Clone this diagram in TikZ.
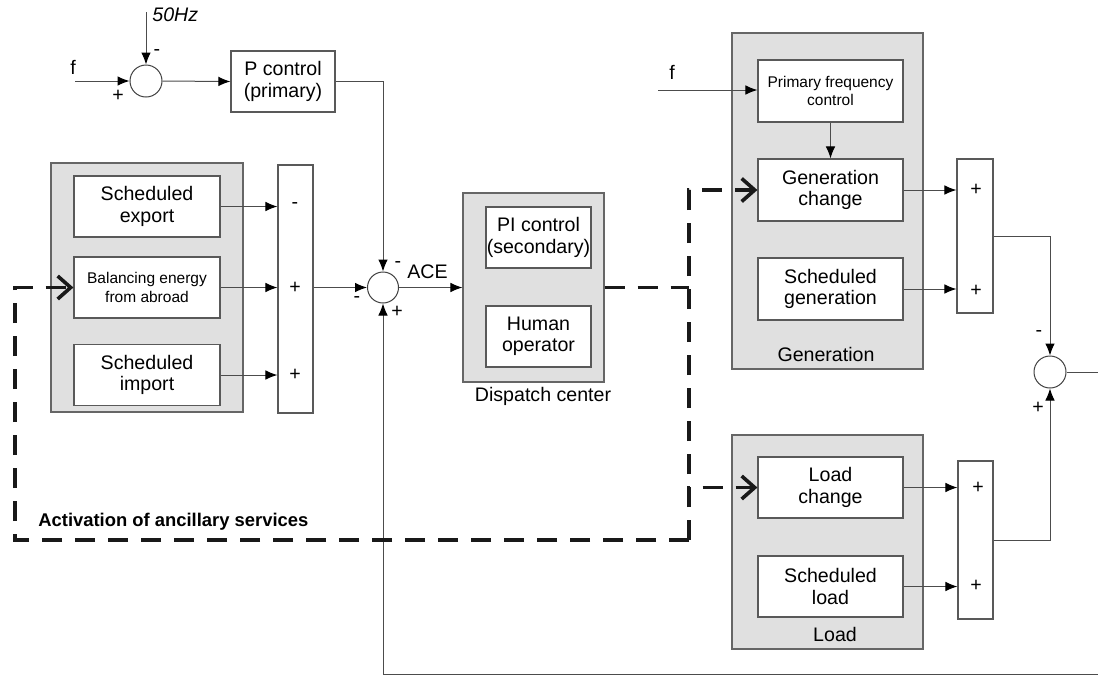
\documentclass[tikz,border=0pt]{standalone}
\usepackage{fontspec}
\setmainfont{Liberation Sans}
\usetikzlibrary{arrows.meta}
\begin{document}
\begin{tikzpicture}[x=0.5pt,y=-0.5pt,
  font=\fontsize{9.8}{10.6}\selectfont,
  ln/.style={draw=black!70, line width=0.5pt},
  arr/.style={ln, -{Latex[length=6pt,width=4.8pt,color=black]}},
  grp/.style={draw=black!60, fill=black!12, line width=0.6pt, inner sep=0},
  blk/.style={draw=black!65, fill=white, line width=0.6pt, inner sep=0, minimum width=73pt, minimum height=30.5pt, align=center},
  smallblk/.style={blk, font=\fontsize{7.75}{9.2}\selectfont},
  sm/.style={circle, draw=black!75, fill=white, line width=0.5pt, minimum size=16pt, inner sep=0},
  bar/.style={draw=black!65, fill=white, line width=0.6pt, inner sep=0},
  lbl/.style={inner sep=0},
  dsh/.style={draw=black!90, line width=1.6pt, dash pattern=on 10pt off 6.5pt},
  chv/.style={dsh, -{Straight Barb[length=6.5pt,width=11.5pt,line width=1.8pt]}}
]
\useasboundingbox (0,0) rectangle (1098,677);

% ---- primary loop ----
\node[sm] (s0) at (146,81) {};
\node[blk, minimum width=52pt] (pc) at (283,81.5) {P control\\(primary)};
\coordinate (fin) at (75,81);
\coordinate (hz) at (146,12);
\node[lbl, font=\fontsize{9.8}{10.4}\selectfont\itshape, anchor=west] (hzl) at (152,15) {50Hz};
\node[lbl] (fl) at (73,67) {f};
\node[lbl] (p0) at (118,96) {+};
\node[lbl] (m0) at (157,53) {-};
\draw[arr] (fin) -- (s0.west);
\draw[arr] (hz) -- (s0.north);
\draw[arr] (s0.east) -- (pc.west);

% ---- left group ----
\node[grp, minimum width=96pt, minimum height=124.5pt] (lg) at (147,287.5) {};
\node[blk] (exp) at (147,206.5) {Scheduled\\export};
\node[smallblk] (bal) at (147,287.5) {Balancing energy\\from abroad};
\node[blk] (imp) at (147,375) {Scheduled\\import};
\node[bar, minimum width=17.5pt, minimum height=124pt] (b1) at (295.5,289) {};
\node[lbl] at (295,206) {-};
\node[lbl] at (295,287.5) {+};
\node[lbl] at (295,375) {+};
\draw[arr] (exp.east) -- (exp.east -| b1.west);
\draw[arr] (bal.east) -- (bal.east -| b1.west);
\draw[arr] (imp.east) -- (imp.east -| b1.west);

% ---- ACE sum ----
\node[sm, minimum size=15.5pt] (s1) at (383,287.5) {};
\node[lbl] at (398,265) {-};
\node[lbl] at (357,300) {-};
\node[lbl] at (397,312) {+};
\draw[arr] (b1.east |- s1.west) -- (s1.west);
\draw[arr] (pc.east) -| (s1.north);

% ---- dispatch ----
\node[grp, minimum width=70.5pt, minimum height=94.5pt] (dc) at (533.5,287.5) {};
\node[blk, minimum width=52.5pt] (pi) at (538.5,237.5) {PI control\\(secondary)};
\node[blk, minimum width=52.5pt] (ho) at (538.5,336.5) {Human\\operator};
\node[lbl] (dcl) at (543,396) {Dispatch center};
\draw[arr] (s1.east) -- node[lbl, above=4pt, pos=0.45] {ACE} (dc.west);

% ---- generation ----
\node[grp, minimum width=95.5pt, minimum height=168pt] (gg) at (827.5,201) {};
\node[smallblk, minimum width=72.5pt, minimum height=31pt] (pfc) at (830.5,91) {Primary frequency\\control};
\node[blk, minimum width=72.5pt, minimum height=31pt] (gc) at (830.5,190) {Generation\\change};
\node[blk, minimum width=72.5pt, minimum height=31pt] (sg) at (830.5,289) {Scheduled\\generation};
\node[lbl] (ggl) at (826,354) {Generation};
\coordinate (f2) at (658,90);
\node[lbl] (f2l) at (672,72) {f};
\draw[arr] (f2) -- (f2 -| pfc.west);
\draw[arr] (pfc.south) -- (gc.north);
\node[bar, minimum width=18pt, minimum height=77pt] (b2) at (975,236) {};
\node[lbl] at (976,190) {+};
\node[lbl] at (976,291) {+};
\draw[arr] (gc.east) -- (gc.east -| b2.west);
\draw[arr] (sg.east) -- (sg.east -| b2.west);

% ---- load ----
\node[grp, minimum width=95.5pt, minimum height=107pt] (lg2) at (827.5,542) {};
\node[blk, minimum width=72.5pt, minimum height=30.5pt] (lc) at (830.5,487.5) {Load\\change};
\node[blk, minimum width=72.5pt, minimum height=30.5pt] (sl) at (830.5,586.5) {Scheduled\\load};
\node[lbl] (lgl) at (835,634) {Load};
\node[bar, minimum width=17.5pt, minimum height=79pt] (b3) at (975.5,540) {};
\node[lbl] at (978,488) {+};
\node[lbl] at (976,586) {+};
\draw[arr] (lc.east) -- (lc.east -| b3.west);
\draw[arr] (sl.east) -- (sl.east -| b3.west);

% ---- final sum ----
\node[sm] (s2) at (1050,372) {};
\node[lbl] at (1039,333) {-};
\node[lbl] at (1038,408) {+};
\coordinate (out) at (1098,372);
\coordinate (fbr) at (1098,674);
\draw[arr] (b2.east) -| (s2.north);
\draw[arr] (b3.east) -| (s2.south);
\draw[ln] (s2.east) -- (out);
\draw[arr] (fbr) -| (s1.south);

% ---- activation of ancillary services ----
\coordinate (dj) at (689,540);
\coordinate (dl) at (15,540);
\draw[dsh] (dc.east) -- (dc.east -| dj);
\draw[chv] (dj) |- (gc.west);
\draw[chv] (dj) |- (lc.west);
\draw[chv] (dj) -- (dl) |- (bal.west);
\node[lbl, anchor=west, font=\fontsize{9.2}{10}\selectfont\bfseries] (act) at (38,522) {Activation of ancillary services};
\end{tikzpicture}
\end{document}
